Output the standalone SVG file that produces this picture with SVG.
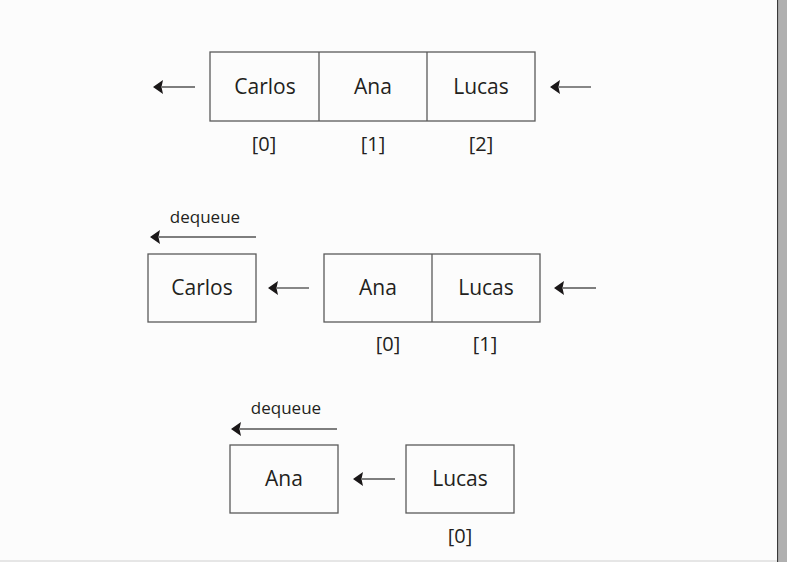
<svg xmlns="http://www.w3.org/2000/svg" width="787" height="562" viewBox="0 0 787 562">
<defs>
<style>
.bg{fill:#fcfcfc}
.box{fill:none;stroke:#5a5a5a;stroke-width:1.3}
.lbl{font-family:"Open Sans","Noto Sans",sans-serif;font-size:21px;fill:#231f20;text-anchor:middle}
.idx{font-family:"Open Sans","Noto Sans",sans-serif;font-size:20px;fill:#231f20;text-anchor:middle}
.dq{font-family:"Open Sans","Noto Sans",sans-serif;font-size:17px;fill:#231f20;text-anchor:middle}
.ar{stroke:#555;stroke-width:1.4;fill:none;marker-end:url(#ah)}
</style>
<marker id="ah" viewBox="0 0 10 16" refX="1" refY="8" markerWidth="10" markerHeight="16" markerUnits="userSpaceOnUse" orient="auto">
<path d="M0,1 L10,8 L0,15 L1.5,8 Z" fill="#1a1718"/>
</marker>
</defs>
<rect class="bg" x="0" y="0" width="787" height="562"/>
<rect x="777" y="0" width="1.5" height="562" fill="#3a3a3a"/>
<rect x="778.5" y="0" width="8.5" height="562" fill="#b0b0b0"/>
<rect x="0" y="560" width="777" height="2" fill="#e6e6e6"/>

<g id="connectors">
<line class="ar" x1="195" y1="87" x2="162" y2="87"/>
<line class="ar" x1="591" y1="87" x2="559" y2="87"/>
<line class="ar" x1="256" y1="237" x2="159" y2="237"/>
<line class="ar" x1="309" y1="288" x2="277" y2="288"/>
<line class="ar" x1="596" y1="288" x2="563" y2="288"/>
<line class="ar" x1="337" y1="429" x2="240" y2="429"/>
<line class="ar" x1="395" y1="479" x2="362" y2="479"/>
</g>

<g id="queue1">
<rect class="box" x="210" y="52" width="325" height="69"/>
<line class="box" x1="319" y1="52" x2="319" y2="121"/>
<line class="box" x1="427" y1="52" x2="427" y2="121"/>
<text class="lbl" x="265" y="94">Carlos</text>
<text class="lbl" x="373" y="94">Ana</text>
<text class="lbl" x="481" y="94">Lucas</text>
<text class="idx" x="264" y="151">[0]</text>
<text class="idx" x="373" y="151">[1]</text>
<text class="idx" x="481" y="151">[2]</text>
</g>

<g id="dequeue1">
<text class="dq" x="205" y="223">dequeue</text>
</g>
<g id="carlos2">
<rect class="box" x="148" y="254" width="108" height="68"/>
<text class="lbl" x="202" y="295">Carlos</text>
</g>
<g id="queue2">
<rect class="box" x="324" y="254" width="216" height="68"/>
<line class="box" x1="432" y1="254" x2="432" y2="322"/>
<text class="lbl" x="378" y="295">Ana</text>
<text class="lbl" x="486" y="295">Lucas</text>
<text class="idx" x="388" y="351">[0]</text>
<text class="idx" x="485" y="351">[1]</text>
</g>

<g id="dequeue2">
<text class="dq" x="286" y="414">dequeue</text>
</g>
<g id="ana3">
<rect class="box" x="230" y="445" width="108" height="68"/>
<text class="lbl" x="284" y="486">Ana</text>
</g>
<g id="queue3">
<rect class="box" x="406" y="445" width="108" height="68"/>
<text class="lbl" x="460" y="486">Lucas</text>
<text class="idx" x="460" y="543">[0]</text>
</g>
</svg>
